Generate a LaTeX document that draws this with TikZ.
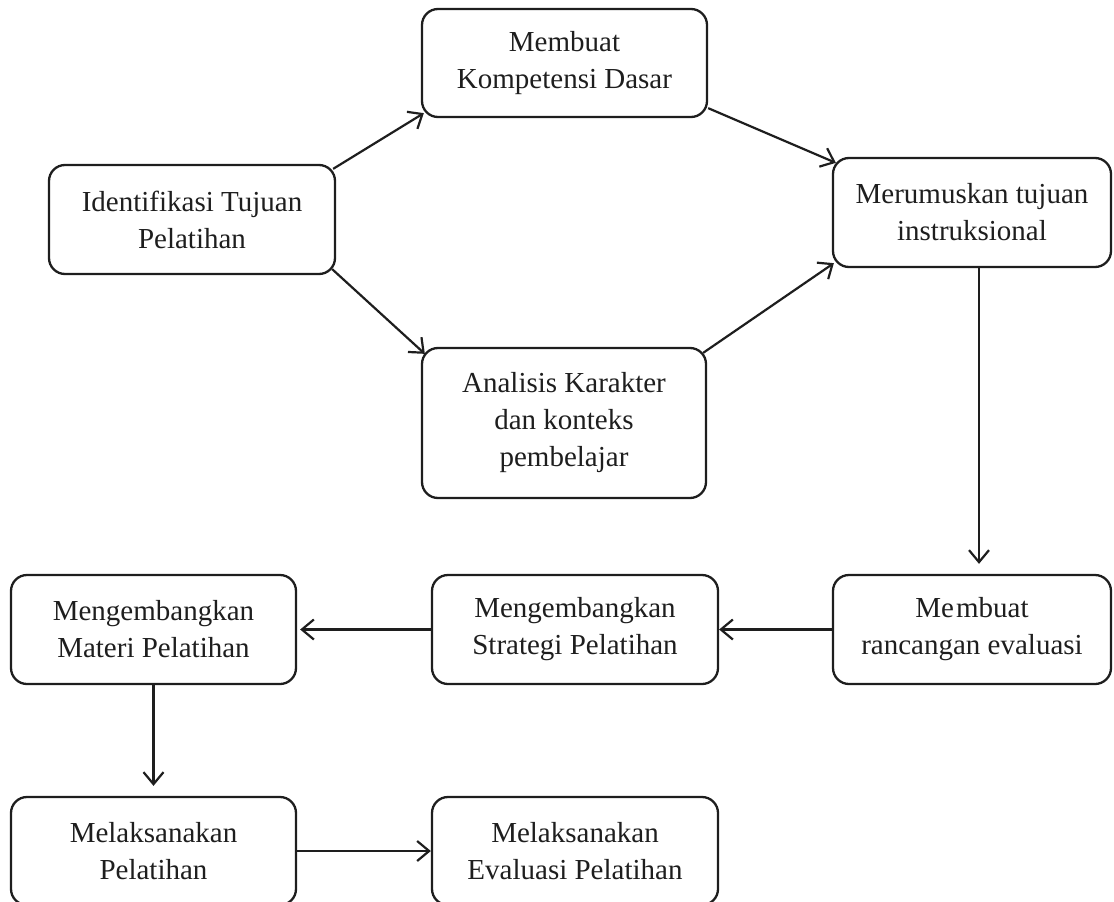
\documentclass[tikz,border=0pt]{standalone}
\usepackage{fontspec}
\setmainfont{Liberation Serif}
\usetikzlibrary{arrows.meta}
\definecolor{ink}{HTML}{1E1E1E}
\begin{document}
\begin{tikzpicture}[x=1pt,y=-1pt,
  stepbox/.style={draw=ink, line width=2.3pt, rounded corners=16pt,
    inner sep=0pt, align=center, text=ink,
    font=\fontsize{29}{37}\selectfont},
  flow/.style={draw=ink, line width=2.2pt,
    -{Straight Barb[length=12pt,width=20pt,line width=2.2pt]}}]
  \useasboundingbox (0,0) rectangle (1114,902);

  % upper part
  \node[stepbox, minimum width=285pt, minimum height=108pt] (komp) at (564.5,63)
    {Membuat\\Kompetensi Dasar};
  \node[stepbox, minimum width=286pt, minimum height=109pt] (ident) at (192,219.5)
    {Identifikasi Tujuan\\Pelatihan};
  \node[stepbox, minimum width=278pt, minimum height=109pt] (rumus) at (972,212.5)
    {Merumuskan tujuan\\instruksional};
  \node[stepbox, minimum width=284pt, minimum height=150pt] (anal) at (564,423)
    {Analisis Karakter\\dan konteks\\pembelajar};

  % middle row
  \node[stepbox, minimum width=278pt, minimum height=109pt] (ranc) at (972,629.5)
    {Me\kern2pt mbuat\\rancangan evaluasi};
  \node[stepbox, minimum width=286pt, minimum height=109pt] (strat) at (575,629.5)
    {Mengembangkan\\Strategi Pelatihan};
  \node[stepbox, minimum width=285pt, minimum height=109pt] (mater) at (153.5,629.5)
    {Mengembangkan\\Materi Pelatihan};

  % bottom row
  \node[stepbox, minimum width=285pt, minimum height=108pt] (laks) at (153.5,851)
    {Melaksanakan\\Pelatihan};
  \node[stepbox, minimum width=286pt, minimum height=108pt] (evalp) at (575,851)
    {Melaksanakan\\Evaluasi Pelatihan};

  % connectors
  \draw[flow] ([shift={(-3,5)}]ident.north east) -- ([shift={(3,-5)}]komp.south west);
  \draw[flow] ([shift={(0,-10)}]komp.south east) -- ([shift={(4,6)}]rumus.north west);
  \draw[flow] ([shift={(-4,-6)}]ident.south east) -- ([shift={(4,7)}]anal.north west);
  \draw[flow] ([shift={(-4,6)}]anal.north east) -- ([shift={(2,-5)}]rumus.south west);
  \draw[flow, shorten >=10pt] ([xshift=7pt]rumus.south) -- ([xshift=7pt]ranc.north);
  \draw[flow] (ranc.west) -- (strat.east);
  \draw[flow, shorten >=3pt] (strat.west) -- (mater.east);
  \draw[flow, shorten >=10pt] (mater.south) -- (laks.north);
  \draw[flow] (laks.east) -- (evalp.west);
\end{tikzpicture}
\end{document}
